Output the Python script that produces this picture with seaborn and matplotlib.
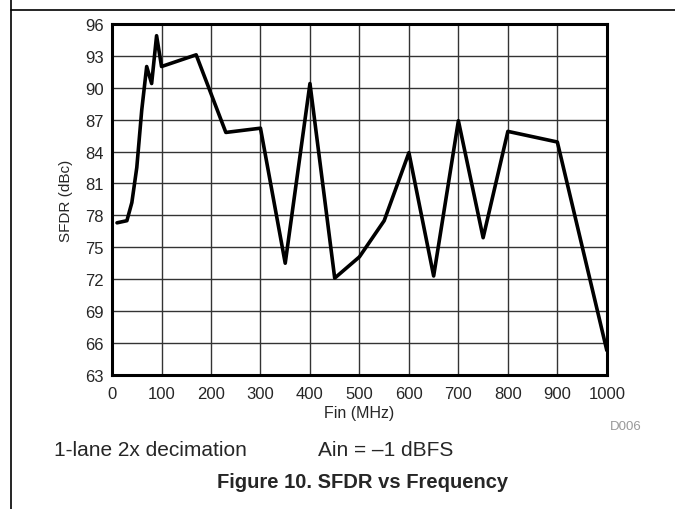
import numpy as np
import pandas as pd
import matplotlib
matplotlib.use('Agg')
import matplotlib.pyplot as plt
from matplotlib.lines import Line2D
import seaborn as sns

# data
fin_mhz = [10, 30, 40, 50, 60, 70, 80, 90, 100, 170, 230, 300, 350, 400,
           450, 500, 550, 600, 650, 700, 750, 800, 900, 1000]
sfdr_dbc = [77.3, 77.5, 79.2, 82.5, 87.9, 92.0, 90.4, 94.9, 92.0, 93.1,
            85.8, 86.2, 73.5, 90.4, 72.1, 74.1, 77.5, 83.9, 72.3, 86.9,
            75.9, 85.9, 84.9, 65.3]
x_ticks = list(range(0, 1001, 100))
y_ticks = list(range(63, 97, 3))

sns.set_style('white')
plt.rcParams['font.family'] = ['Liberation Sans', 'DejaVu Sans']

df = pd.DataFrame({'Fin (MHz)': fin_mhz, 'SFDR (dBc)': sfdr_dbc})

fig = plt.figure(figsize=(6.75, 5.1), dpi=100)
ax = fig.add_axes([0.166, 0.263, 0.733, 0.688])

sns.lineplot(data=df, x='Fin (MHz)', y='SFDR (dBc)', ax=ax,
             color='black', lw=2.6, zorder=3)

ax.set_xlim(0, 1000); ax.set_ylim(63, 96)
ax.set_xticks(x_ticks); ax.set_yticks(y_ticks)
ax.grid(True, color='#333333', lw=1.0, zorder=0)
for s in ax.spines.values():
    s.set_color('black'); s.set_linewidth(2.2)
ax.tick_params(axis='x', labelsize=12, length=0, pad=8)
ax.tick_params(axis='y', labelsize=12, length=0, pad=6)
ax.set_xlabel('Fin (MHz)', fontsize=11.5, labelpad=3)
ax.set_ylabel('SFDR (dBc)', fontsize=11, labelpad=9)

# page furniture
fig.add_artist(Line2D([11 / 675, 11 / 675], [0, 1], color='black', lw=1.2))
fig.add_artist(Line2D([11 / 675, 1], [1 - 10.5 / 510, 1 - 10.5 / 510],
                      color='black', lw=1.2))
fig.text(642 / 675, 1 - 427 / 510, 'D006', fontsize=9.5, color='#999999',
         ha='right', va='center')
fig.text(54 / 675, 1 - 451 / 510, '1-lane 2x decimation', fontsize=15,
         ha='left', va='center')
fig.text(318 / 675, 1 - 451 / 510, 'Ain = \u20131 dBFS', fontsize=15,
         ha='left', va='center')
fig.text(363 / 675, 1 - 483 / 510, 'Figure 10. SFDR vs Frequency',
         fontsize=14.5, fontweight='bold', ha='center', va='center')

plt.savefig('out.png', dpi=100)
plt.close()
